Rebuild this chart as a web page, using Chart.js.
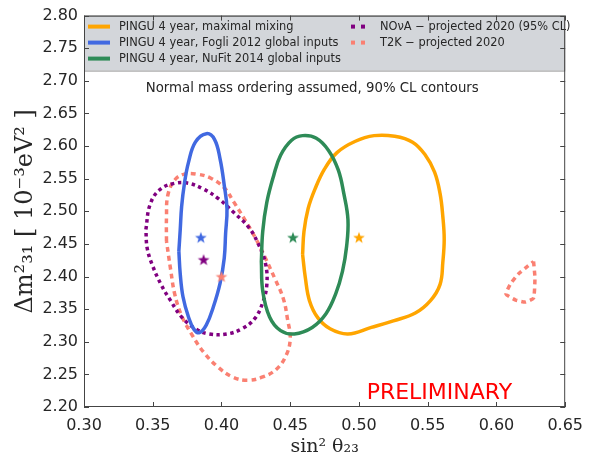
<!DOCTYPE html>
<html><head><meta charset="utf-8">
<script src="https://cdn.jsdelivr.net/npm/chart.js@4.4.0/dist/chart.umd.min.js"></script>
<style>html,body{margin:0;padding:0;background:#fff;}canvas{display:block;}</style>
</head><body>
<canvas id="c" width="592" height="466"></canvas>
<script>
// ---- tick labels ----
const xTickValues = [0.30,0.35,0.40,0.45,0.50,0.55,0.60,0.65];
const yTickValues = [2.20,2.25,2.30,2.35,2.40,2.45,2.50,2.55,2.60,2.65,2.70,2.75,2.80];

// ---- series (contours) ----
const orangeX = [0.459,0.460,0.463,0.468,0.475,0.484,0.497,0.511,0.526,0.539,0.548,0.555,0.559,0.561,0.562,0.561,0.559,0.552,0.541,0.525,0.509,0.492,0.479,0.470,0.464,0.461];
const orangeY = [2.434,2.469,2.504,2.534,2.565,2.590,2.607,2.616,2.615,2.606,2.587,2.560,2.527,2.492,2.457,2.422,2.388,2.363,2.344,2.332,2.322,2.312,2.320,2.337,2.363,2.398];

const blueX = [0.369,0.370,0.371,0.373,0.376,0.381,0.389,0.395,0.399,0.402,0.404,0.403,0.402,0.399,0.394,0.389,0.384,0.380,0.376,0.372,0.370];
const blueY = [2.439,2.472,2.507,2.542,2.575,2.606,2.619,2.610,2.580,2.540,2.504,2.466,2.428,2.390,2.353,2.326,2.314,2.319,2.338,2.369,2.404];

const greenX = [0.429,0.430,0.433,0.438,0.443,0.451,0.459,0.469,0.478,0.485,0.489,0.492,0.491,0.488,0.483,0.476,0.466,0.453,0.443,0.435,0.430];
const greenY = [2.423,2.469,2.514,2.555,2.586,2.609,2.616,2.612,2.593,2.563,2.527,2.487,2.446,2.408,2.373,2.343,2.322,2.312,2.317,2.338,2.378];

const novaX = [0.345,0.348,0.355,0.366,0.376,0.387,0.398,0.409,0.420,0.427,0.432,0.433,0.430,0.424,0.415,0.404,0.391,0.381,0.371,0.363,0.356,0.350,0.346];
const novaY = [2.472,2.510,2.533,2.543,2.543,2.534,2.519,2.498,2.475,2.449,2.420,2.388,2.360,2.335,2.320,2.312,2.312,2.320,2.338,2.363,2.388,2.416,2.443];

const t2kX = [0.360,0.360,0.361,0.366,0.373,0.382,0.392,0.402,0.409,0.417,0.425,0.432,0.439,0.445,0.448,0.450,0.447,0.440,0.430,0.419,0.408,0.397,0.387,0.379,0.371,0.366,0.363];
const t2kY = [2.454,2.492,2.525,2.548,2.557,2.557,2.551,2.536,2.514,2.487,2.458,2.428,2.396,2.366,2.335,2.305,2.279,2.258,2.246,2.241,2.246,2.262,2.284,2.309,2.340,2.373,2.411];

const t2kIslandX = [0.627,0.628,0.627,0.621,0.614,0.607,0.610,0.616,0.621];
const t2kIslandY = [2.423,2.398,2.367,2.361,2.364,2.373,2.388,2.404,2.413];

// best-fit stars: maximal mixing, Fogli, NuFit, NOvA, T2K
const starX = [0.500,0.385,0.452,0.387,0.400];
const starY = [2.460,2.460,2.460,2.426,2.400];

// ---- labels ----
const legendLabels = [
  'PINGU 4 year, maximal mixing',
  'PINGU 4 year, Fogli 2012 global inputs',
  'PINGU 4 year, NuFit 2014 global inputs',
  'NOνA − projected 2020 (95% CL)',
  'T2K − projected 2020'
];
const colors = ['#ffa500','#4169e1','#2e8b57','#800080','#fa8072'];
const noteText = 'Normal mass ordering assumed, 90% CL contours';
const prelimText = 'PRELIMINARY';
const xTitle = 'sin² θ₂₃';
const yTitle = 'Δm²₃₁ [ 10⁻³eV² ]';

function zip(xs, ys){ const out=[]; for(let i=0;i<xs.length;i++) out.push({x:xs[i],y:ys[i]}); out.push({x:xs[0],y:ys[0]}); return out; }
function pts(xs, ys){ return xs.map((v,i)=>({x:v,y:ys[i]})); }

function starImg(color){
  const c=document.createElement('canvas'); c.width=14; c.height=14;
  const g=c.getContext('2d'); g.fillStyle=color; g.beginPath();
  for(let i=0;i<10;i++){const r=i%2?2.5:6.2; const t=-Math.PI/2+i*Math.PI/5; g.lineTo(7+r*Math.cos(t),7.6+r*Math.sin(t));}
  g.closePath(); g.fill(); return c;
}

const TXT = '#262626';
const lineDS = (label, data, color, dash, tension) => ({
  label, data, showLine:true, borderColor:color, backgroundColor:color,
  borderWidth:3.5, borderDash:dash||[], pointRadius:0, tension: tension===undefined?0.4:tension, fill:false,
  borderCapStyle:'butt'
});

const decor = {
  id:'decor',
  afterDatasetsDraw(chart){
    const {ctx, chartArea:a, scales:{x,y}} = chart;
    ctx.save();
    // legend box
    const lh = 55;
    ctx.fillStyle = '#d3d6da';
    ctx.fillRect(a.left, a.top, a.right-a.left, lh);
    ctx.strokeStyle = '#9a9a9a'; ctx.lineWidth = 1;
    ctx.strokeRect(a.left+0.5, a.top+0.5, a.right-a.left-1, lh);
    ctx.font = '11.4px "DejaVu Sans"';
    ctx.textBaseline = 'middle'; ctx.textAlign = 'left';
    const rows = [a.top+11, a.top+27, a.top+43];
    for(let i=0;i<3;i++){
      ctx.strokeStyle = colors[i]; ctx.lineWidth = 4; ctx.setLineDash([]);
      ctx.beginPath(); ctx.moveTo(a.left+4, rows[i]); ctx.lineTo(a.left+26, rows[i]); ctx.stroke();
      ctx.fillStyle = TXT; ctx.fillText(legendLabels[i], a.left+35, rows[i]);
    }
    for(let j=0;j<2;j++){
      const i=3+j;
      ctx.fillStyle = colors[i];
      ctx.fillRect(a.left+267, rows[j]-2, 4, 4);
      ctx.fillRect(a.left+277, rows[j]-2, 4, 4);
      ctx.fillStyle = TXT; ctx.fillText(legendLabels[i], a.left+296, rows[j]);
    }
    // frame
    ctx.strokeStyle = '#444'; ctx.lineWidth = 1; ctx.setLineDash([]);
    ctx.strokeRect(a.left+0.5, a.top+0.5, a.right-a.left-1, a.bottom-a.top-1);
    // inward ticks
    ctx.beginPath();
    xTickValues.forEach(v=>{ const p=Math.round(x.getPixelForValue(v))+0.5;
      ctx.moveTo(p,a.bottom); ctx.lineTo(p,a.bottom-5); ctx.moveTo(p,a.top); ctx.lineTo(p,a.top+5); });
    yTickValues.forEach(v=>{ const p=Math.round(y.getPixelForValue(v))+0.5;
      ctx.moveTo(a.left,p); ctx.lineTo(a.left+5,p); ctx.moveTo(a.right,p); ctx.lineTo(a.right-5,p); });
    ctx.stroke();
    // annotations
    ctx.fillStyle = TXT; ctx.textAlign='center'; ctx.textBaseline='middle';
    ctx.font = '13.3px "DejaVu Sans"';
    ctx.fillText(noteText, x.getPixelForValue(0.466), y.getPixelForValue(2.688));
    ctx.fillStyle = '#ff0000';
    ctx.font = '22px "DejaVu Sans"';
    ctx.fillText(prelimText, x.getPixelForValue(0.5585), y.getPixelForValue(2.221));
    ctx.restore();
  }
};

new Chart(document.getElementById('c'), {
  type:'scatter',
  data:{ datasets:[
    { label:'best fit', data:pts(starX,starY), showLine:false, pointStyle:colors.map(starImg), pointRadius:7, pointHoverRadius:7 },
    lineDS(legendLabels[1], zip(blueX,blueY), colors[1]),
    lineDS(legendLabels[2], zip(greenX,greenY), colors[2]),
    lineDS(legendLabels[0], zip(orangeX,orangeY), colors[0]),
    lineDS(legendLabels[3], zip(novaX,novaY), colors[3], [3.5,3.5]),
    lineDS(legendLabels[4], zip(t2kX,t2kY), colors[4], [5,4]),
    lineDS(legendLabels[4], zip(t2kIslandX,t2kIslandY), colors[4], [5,4], 0.15)
  ]},
  options:{
    responsive:false, animation:false, devicePixelRatio:1,
    layout:{ padding:{ left:0, right:22, top:12, bottom:0 } },
    plugins:{ legend:{display:false}, tooltip:{enabled:false} },
    scales:{
      x:{ type:'linear', min:0.30, max:0.65,
        afterBuildTicks(s){ s.ticks = xTickValues.map(v=>({value:v})); },
        afterFit(s){ s.height = 59; },
        grid:{ display:false, drawTicks:false }, border:{ display:false },
        ticks:{ padding:9, color:TXT, font:{ family:'DejaVu Sans', size:16 }, callback:v=>Number(v).toFixed(2), maxRotation:0, autoSkip:false },
        title:{ display:true, text:xTitle, color:TXT, font:{ family:'DejaVu Serif', size:19 }, padding:{ top:0, bottom:8 } }
      },
      y:{ type:'linear', min:2.20, max:2.80,
        afterBuildTicks(s){ s.ticks = yTickValues.map(v=>({value:v})); },
        afterFit(s){ s.width = 84; },
        grid:{ display:false, drawTicks:false }, border:{ display:false },
        ticks:{ padding:6, color:TXT, font:{ family:'DejaVu Sans', size:16 }, callback:v=>Number(v).toFixed(2), autoSkip:false },
        title:{ display:true, text:yTitle, color:TXT, font:{ family:'DejaVu Serif', size:24 }, padding:{ top:11, bottom:0 } }
      }
    }
  },
  plugins:[decor]
});
</script>
</body></html>
